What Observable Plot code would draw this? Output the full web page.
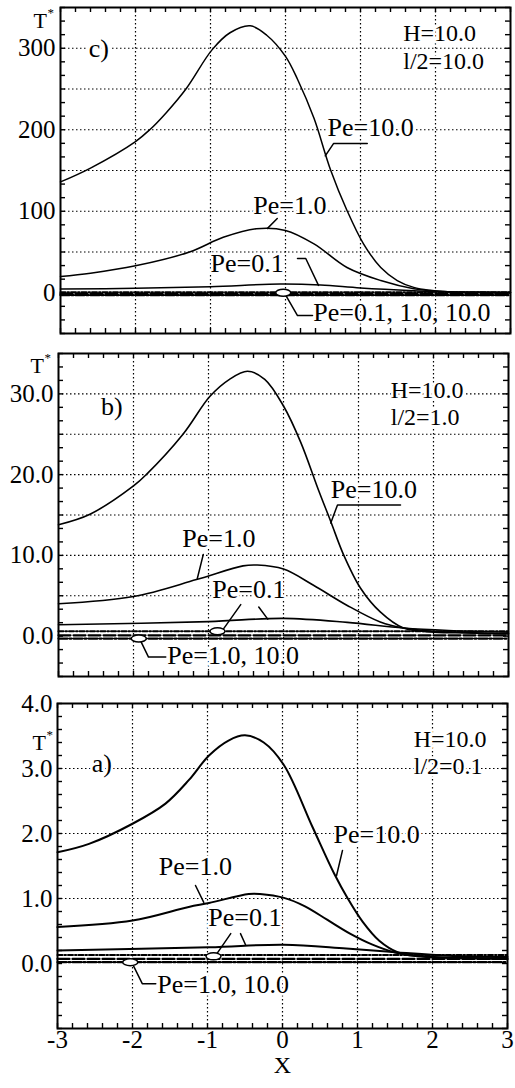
<!DOCTYPE html>
<html><head><meta charset="utf-8">
<script src="https://cdn.jsdelivr.net/npm/d3@7"></script>
<script src="https://cdn.jsdelivr.net/npm/@observablehq/plot@0.6"></script>
<style>body{margin:0;background:#fff} svg{display:block}</style>
</head><body><div id="chart"></div>
<script>
// ---------- axis tick definitions ----------
const xGrid = [-2, -1, 0, 1, 2];
const xLabels = [-3, -2, -1, 0, 1, 2, 3];
const xMinor = d3.range(-3, 3.001, 0.2);

const yLabelsC = [0, 100, 200, 300];
const yGridC = [50, 100, 150, 200, 250, 300];
const yLabelsB = [0, 10, 20, 30];
const yGridB = [5, 10, 15, 20, 25, 30];
const yLabelsA = [0, 1, 2, 3, 4];
const yGridA = [1, 2, 3];

// ---------- panel c) H=10.0, l/2=10.0 ----------
const cPe10X = [-3, -2.6, -2, -1.81, -1.59, -1.32, -0.98, -0.74, -0.47, -0.25, 0, 0.16, 0.38, 0.6, 0.82, 1.04, 1.27, 1.49, 1.71, 1.93, 2.2, 2.6, 3];
const cPe10T = [136, 153, 185.5, 200, 221, 251, 298, 319, 327.5, 316, 290, 262, 214, 151, 101, 60, 31, 15, 6.6, 3, 1, 0.3, 0];
const cPe1X = [-3, -2.6, -2, -1.28, -0.83, -0.39, 0, 0.38, 0.82, 1.27, 1.71, 2.1, 2.6, 3];
const cPe1T = [20, 24, 33, 50, 68, 78.6, 76.5, 60, 31, 15, 5, 1.5, 0.5, 0];
const cPe01X = [-3, -2, -1, -0.07, 0.47, 1, 1.71, 2.2, 3];
const cPe01T = [4.5, 5.5, 7.4, 10.7, 9.5, 5.8, 2.5, 1, 0.5];
const cDashX = [-3, -2, -1, 0, 1, 2, 3];
const cDash01 = [0.5, 0.5, 0.5, 0.5, 0.5, 0.5, 0.5];
const cDash1 = [-1.5, -1.5, -1.5, -1.5, -1.5, -1.5, -1.5];
const cDash10 = [-3, -3, -3, -3, -3, -3, -3];

// ---------- panel b) H=10.0, l/2=1.0 ----------
const bPe10X = [-3, -2.58, -2, -1.83, -1.34, -0.98, -0.72, -0.48, -0.25, 0, 0.23, 0.47, 0.63, 0.8, 1.03, 1.29, 1.6, 2, 2.5, 3];
const bPe10T = [13.8, 15.1, 18.6, 20, 25, 29.7, 31.8, 32.8, 31.8, 28.5, 24, 18, 14.2, 10.1, 5.9, 3.0, 1.0, 0.5, 0.4, 0.3];
const bPe1X = [-3, -2, -1.16, -0.54, -0.35, 0, 0.4, 0.85, 1.29, 1.6, 2, 2.5, 3];
const bPe1T = [4.0, 4.9, 7.0, 8.7, 8.8, 8.3, 6.3, 3.8, 1.75, 1.0, 0.6, 0.4, 0.3];
const bPe01X = [-3, -1, 0, 0.85, 1.6, 2.2, 3];
const bPe01T = [1.4, 1.8, 2.2, 1.7, 1.0, 0.7, 0.5];
const bDashX = [-3, -2, -1, 0, 1, 2, 3];
const bDash01 = [0.6, 0.6, 0.6, 0.6, 0.6, 0.6, 0.6];
const bDash1 = [0.1, 0.1, 0.1, 0.1, 0.1, 0.1, 0.1];
const bDash10 = [-0.3, -0.3, -0.3, -0.3, -0.3, -0.3, -0.3];

// ---------- panel a) H=10.0, l/2=0.1 ----------
const aPe10X = [-3, -2.58, -2, -1.56, -1.25, -0.98, -0.72, -0.5, -0.25, 0.02, 0.4, 0.69, 0.87, 1.07, 1.29, 1.54, 1.8, 2.2, 2.6, 3];
const aPe10T = [1.71, 1.84, 2.15, 2.46, 2.82, 3.2, 3.43, 3.51, 3.4, 3.05, 2.1, 1.38, 1.0, 0.64, 0.35, 0.17, 0.11, 0.09, 0.08, 0.07];
const aPe1X = [-3, -2, -1.25, -0.98, -0.45, -0.3, 0.02, 0.3, 0.6, 0.9, 1.2, 1.5, 1.8, 2.2, 2.6, 3];
const aPe1T = [0.56, 0.66, 0.87, 0.93, 1.07, 1.07, 1.01, 0.88, 0.67, 0.46, 0.29, 0.17, 0.12, 0.09, 0.08, 0.07];
const aPe01X = [-3, -0.98, 0.02, 0.85, 1.54, 2.2, 3];
const aPe01T = [0.2, 0.25, 0.29, 0.23, 0.17, 0.12, 0.1];
const aDashX = [-3, -2, -1, 0, 1, 2, 3];
const aDash01 = [0.13, 0.13, 0.13, 0.13, 0.13, 0.13, 0.13];
const aDash1 = [0.07, 0.07, 0.07, 0.07, 0.07, 0.07, 0.07];
const aDash10 = [0.02, 0.02, 0.02, 0.02, 0.02, 0.02, 0.02];

// ---------- annotation texts (data coordinates) ----------
const cTexts = [
  {x: -2.49, y: 299, text: "c)", anchor: "middle"},
  {x: 0.56, y: 202, text: "Pe=10.0", anchor: "start"},
  {x: -0.43, y: 107, text: "Pe=1.0", anchor: "start"},
  {x: -1.0, y: 36, text: "Pe=0.1", anchor: "start"},
  {x: 0.37, y: -25, text: "Pe=0.1, 1.0, 10.0", anchor: "start"}
];
const cParams = [
  {x: 1.57, y: 318, text: "H=10.0"},
  {x: 1.57, y: 284, text: "l/2=10.0"}
];
const cLeaders = [
  {id: 1, x: 1.09, y: 183}, {id: 1, x: 0.64, y: 183}, {id: 1, x: 0.53, y: 168},
  {id: 2, x: -0.11, y: 91}, {id: 2, x: -0.24, y: 79},
  {id: 3, x: 0.16, y: 42}, {id: 3, x: 0.27, y: 42}, {id: 3, x: 0.44, y: 9},
  {id: 4, x: 0.01, y: -4}, {id: 4, x: 0.16, y: -28}, {id: 4, x: 0.36, y: -28}
];
const cOvals = [{x: -0.03, y: 0}];

const bTexts = [
  {x: -2.29, y: 28.4, text: "b)", anchor: "middle"},
  {x: 0.63, y: 18.1, text: "Pe=10.0", anchor: "start"},
  {x: -1.35, y: 12.1, text: "Pe=1.0", anchor: "start"},
  {x: -0.95, y: 5.75, text: "Pe=0.1", anchor: "start"},
  {x: -1.55, y: -2.4, text: "Pe=1.0, 10.0", anchor: "start"}
];
const bParams = [
  {x: 1.43, y: 30.5, text: "H=10.0"},
  {x: 1.43, y: 27.1, text: "l/2=1.0"}
];
const bLeaders = [
  {id: 1, x: 1.56, y: 16.25}, {id: 1, x: 0.72, y: 16.25}, {id: 1, x: 0.63, y: 14},
  {id: 2, x: -1.07, y: 10.1}, {id: 2, x: -1.15, y: 7.1},
  {id: 3, x: -0.57, y: 3.9}, {id: 3, x: -0.8, y: 0.9},
  {id: 4, x: -0.33, y: 3.6}, {id: 4, x: -0.21, y: 2.1},
  {id: 5, x: -1.91, y: -0.5}, {id: 5, x: -1.8, y: -2.6}, {id: 5, x: -1.57, y: -2.6}
];
const bOvals = [{x: -0.88, y: 0.6}, {x: -1.93, y: -0.3}];

const aTexts = [
  {x: -2.41, y: 3.08, text: "a)", anchor: "middle"},
  {x: 0.68, y: 1.98, text: "Pe=10.0", anchor: "start"},
  {x: -1.65, y: 1.49, text: "Pe=1.0", anchor: "start"},
  {x: -0.99, y: 0.71, text: "Pe=0.1", anchor: "start"},
  {x: -1.67, y: -0.32, text: "Pe=1.0, 10.0", anchor: "start"}
];
const aParams = [
  {x: 1.75, y: 3.45, text: "H=10.0"},
  {x: 1.75, y: 3.03, text: "l/2=0.1"}
];
const aLeaders = [
  {id: 1, x: 0.8, y: 1.74}, {id: 1, x: 0.72, y: 1.35},
  {id: 2, x: -1.16, y: 1.2}, {id: 2, x: -1.05, y: 0.94},
  {id: 3, x: -0.69, y: 0.46}, {id: 3, x: -0.87, y: 0.16},
  {id: 4, x: -0.56, y: 0.46}, {id: 4, x: -0.49, y: 0.28},
  {id: 5, x: -1.99, y: -0.03}, {id: 5, x: -1.87, y: -0.31}, {id: 5, x: -1.69, y: -0.31}
];
const aOvals = [{x: -0.92, y: 0.11}, {x: -2.03, y: 0.02}];

// ---------- helpers ----------
const FONT = "Liberation Serif, Times New Roman, serif";
const pts = (xs, ts) => xs.map((x, i) => ({x, t: ts[i]}));
const K = 0.5523;
const ovalSymbol = {
  draw(ctx) {
    const rx = 7.5, ry = 3.5;
    ctx.moveTo(rx, 0);
    ctx.bezierCurveTo(rx, ry * K, rx * K, ry, 0, ry);
    ctx.bezierCurveTo(-rx * K, ry, -rx, ry * K, -rx, 0);
    ctx.bezierCurveTo(-rx, -ry * K, -rx * K, -ry, 0, -ry);
    ctx.bezierCurveTo(rx * K, -ry, rx, -ry * K, rx, 0);
    ctx.closePath();
  }
};
const gridStyle = {stroke: "black", strokeOpacity: 1, strokeDasharray: "1.5,2.5", strokeWidth: 1.2};
const labelStyle = {x: "x", y: "y", text: "text", fontSize: 26, fontFamily: FONT, fill: "black", stroke: "white", strokeWidth: 5};

function panel(p) {
  const innerW = 515 - p.ml - p.mr;
  const innerH = p.height - p.mt - p.mb;
  const marks = [
    Plot.gridX(xGrid, gridStyle),
    Plot.gridY(p.grid, gridStyle),
    Plot.tickX(xMinor, {x: d => d, insetTop: innerH - 5, strokeWidth: 1.4}),
    Plot.tickX(xMinor, {x: d => d, insetBottom: innerH - 5, strokeWidth: 1.4}),
    Plot.tickY(p.minor, {y: d => d, insetRight: innerW - 5, strokeWidth: 1.4}),
    Plot.tickY(p.minor, {y: d => d, insetLeft: innerW - 5, strokeWidth: 1.4}),
    Plot.axisY(p.yLabels, {tickSize: 0, tickPadding: 5, tickFormat: p.fmt, fontSize: 25, label: null}),
    Plot.line(pts(p.dashX, p.d10), {x: "x", y: "t", strokeWidth: 2.2, strokeDasharray: "9,2,2,2"}),
    Plot.line(pts(p.dashX, p.d1), {x: "x", y: "t", strokeWidth: 2.2, strokeDasharray: "12,3"}),
    Plot.line(pts(p.dashX, p.d01), {x: "x", y: "t", strokeWidth: 2, strokeDasharray: "5,2,1.5,2"}),
    Plot.line(pts(p.pe01X, p.pe01T), {x: "x", y: "t", strokeWidth: p.sw, curve: "catmull-rom"}),
    Plot.line(pts(p.pe1X, p.pe1T), {x: "x", y: "t", strokeWidth: p.sw, curve: "catmull-rom"}),
    Plot.line(pts(p.pe10X, p.pe10T), {x: "x", y: "t", strokeWidth: p.sw, curve: "catmull-rom"}),
    Plot.text(p.texts.filter(d => d.anchor === "start"), {...labelStyle, textAnchor: "start"}),
    Plot.text(p.texts.filter(d => d.anchor === "middle"), {...labelStyle, textAnchor: "middle"}),
    Plot.text(p.params, {...labelStyle, fontSize: 24, textAnchor: "start"}),
    Plot.line(p.leaders, {x: "x", y: "y", z: "id", strokeWidth: 1.5}),
    Plot.dot(p.ovals, {x: "x", y: "y", symbol: ovalSymbol, fill: "white", stroke: "black", strokeWidth: 1.5}),
    Plot.text(["T"], {frameAnchor: "top-left", textAnchor: "start", dx: p.tdx, dy: p.tdy, fontSize: 22, fontFamily: FONT}),
    Plot.text(["*"], {frameAnchor: "top-left", textAnchor: "start", dx: p.tdx + 14, dy: p.tdy - 5, fontSize: 13, fontFamily: FONT}),
    Plot.frame({strokeWidth: 2})
  ];
  if (p.showX) {
    marks.push(Plot.axisX(xLabels, {tickSize: 0, tickPadding: 2, fontSize: 25, label: null,
      tickFormat: d => (d < 0 ? "-" + Math.abs(d) : String(d))}));
    marks.push(Plot.text(["X"], {frameAnchor: "bottom", dy: 44, fontSize: 24, fontFamily: FONT}));
  }
  return Plot.plot({
    width: 515, height: p.height,
    marginLeft: p.ml, marginRight: p.mr, marginTop: p.mt, marginBottom: p.mb,
    x: {domain: [-3, 3], axis: null},
    y: {domain: p.domain, axis: null},
    style: {fontFamily: FONT, fontSize: "25px", background: "white", color: "black", overflow: "visible"},
    marks
  });
}

const chart = document.getElementById("chart");
chart.append(panel({
  height: 345, ml: 60, mr: 5, mt: 7, mb: 12, domain: [-50, 350],
  grid: yGridC, yLabels: yLabelsC, minor: d3.range(-50, 350.1, 50 / 3), fmt: d => String(d),
  pe10X: cPe10X, pe10T: cPe10T, pe1X: cPe1X, pe1T: cPe1T, pe01X: cPe01X, pe01T: cPe01T,
  dashX: cDashX, d01: cDash01, d1: cDash1, d10: cDash10, sw: 1.5,
  texts: cTexts, params: cParams, leaders: cLeaders, ovals: cOvals, tdx: -27, tdy: 5, showX: false
}));
chart.append(panel({
  height: 340, ml: 58, mr: 7, mt: 8, mb: 9, domain: [-5, 35],
  grid: yGridB, yLabels: yLabelsB, minor: d3.range(-5, 35.01, 5 / 3), fmt: d3.format(".1f"),
  pe10X: bPe10X, pe10T: bPe10T, pe1X: bPe1X, pe1T: bPe1T, pe01X: bPe01X, pe01T: bPe01T,
  dashX: bDashX, d01: bDash01, d1: bDash1, d10: bDash10, sw: 1.6,
  texts: bTexts, params: bParams, leaders: bLeaders, ovals: bOvals, tdx: -28, tdy: 4, showX: false
}));
chart.append(panel({
  height: 403, ml: 57, mr: 8, mt: 18, mb: 60, domain: [-1, 4],
  grid: yGridA, yLabels: yLabelsA, minor: d3.range(-1, 4.001, 0.2), fmt: d3.format(".1f"),
  pe10X: aPe10X, pe10T: aPe10T, pe1X: aPe1X, pe1T: aPe1T, pe01X: aPe01X, pe01T: aPe01T,
  dashX: aDashX, d01: aDash01, d1: aDash1, d10: aDash10, sw: 2,
  texts: aTexts, params: aParams, leaders: aLeaders, ovals: aOvals, tdx: -25, tdy: 31, showX: true
}));
</script>
</body></html>
